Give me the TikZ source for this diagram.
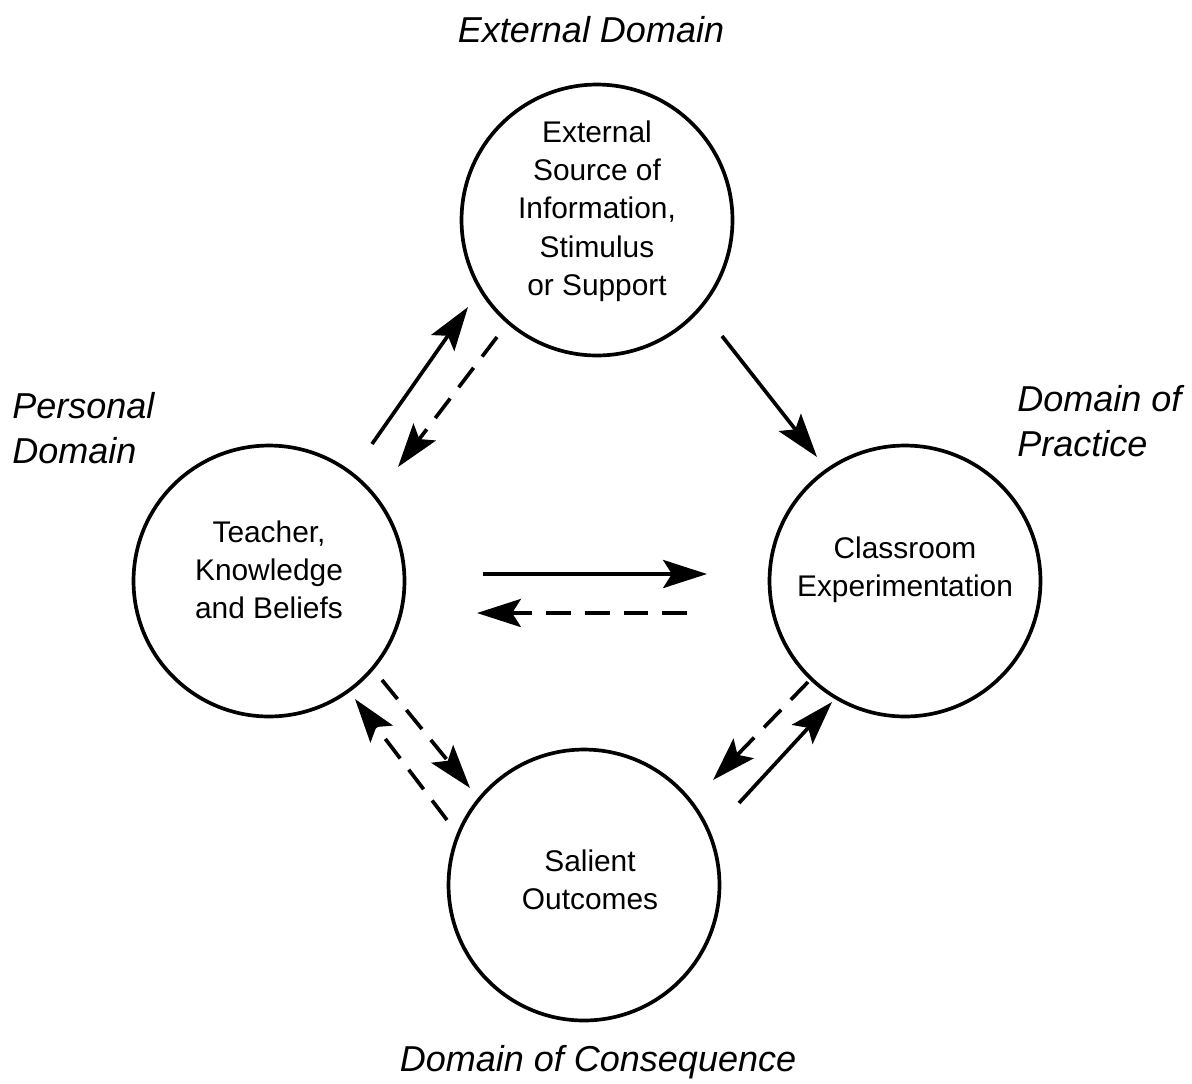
\documentclass[tikz,border=0pt]{standalone}
\usepackage{fontspec}
\setmainfont{Liberation Sans}
\usetikzlibrary{arrows.meta}
\tikzset{
  domcircle/.style={circle, draw, line width=2.1pt, minimum size=5.42cm, inner sep=0pt},
  domtext/.style={align=center, inner sep=0pt, font=\fontsize{17}{21.8}\selectfont},
  domlabel/.style={font=\fontsize{20.5}{25.5}\selectfont\itshape, inner sep=0pt},
  flow/.style={-{Stealth[length=25pt,width=16pt,inset=5pt]}, line width=2.1pt},
  back/.style={flow, dash pattern=on 14pt off 8pt},
}
\begin{document}
\begin{tikzpicture}[x=0.02cm, y=-0.02cm]
  \useasboundingbox (0,0) rectangle (1192,1083);
  % the four circles and their texts
  \node[domcircle] (ext) at (597,220) {};
  \node[domcircle] (per) at (269,581) {};
  \node[domcircle] (pra) at (905,581) {};
  \node[domcircle] (con) at (584,885) {};
  \node[domtext] (ext-t) at (597,211) {External\\Source of\\Information,\\Stimulus\\or Support};
  \node[domtext] (per-t) at (269,570) {Teacher,\\Knowledge\\and Beliefs};
  \node[domtext] (pra-t) at (905,570) {Classroom\\Experimentation};
  \node[domtext] (con-t) at (590,880) {Salient\\Outcomes};
  % domain names
  \node[domlabel] (extlab) at (591,30) {External Domain};
  \node[domlabel, align=left, anchor=west] (perlab) at (12,428) {Personal\\Domain};
  \node[domlabel, align=left, anchor=west] (pralab) at (1017,421) {Domain of\\Practice};
  \node[domlabel] (conlab) at (598,1062) {Domain of Consequence};
  % arrow ends
  \coordinate (pe1) at (372,444); \coordinate (ex1) at (468,307);
  \coordinate (ex2) at (497,337); \coordinate (pe2) at (398,467);
  \coordinate (ex3) at (722,336); \coordinate (pr3) at (817,457);
  \coordinate (pe4) at (483,574); \coordinate (pr4) at (707,574);
  \coordinate (pr5) at (687,613); \coordinate (pe5) at (477,613);
  \coordinate (pr6) at (808,682); \coordinate (co6) at (713,780);
  \coordinate (co7) at (739,803); \coordinate (pr7) at (832,702);
  \coordinate (pe8) at (382,680); \coordinate (co8) at (470,788);
  \coordinate (co9) at (447,820); \coordinate (pe9) at (355,699);
  \draw[flow] (pe1) -- (ex1);
  \draw[back] (ex2) -- (pe2);
  \draw[flow] (ex3) -- (pr3);
  \draw[flow] (pe4) -- (pr4);
  \draw[back] (pr5) -- (pe5);
  \draw[back] (pr6) -- (co6);
  \draw[flow] (co7) -- (pr7);
  \draw[back] (pe8) -- (co8);
  \draw[back] (co9) -- (pe9);
\end{tikzpicture}
\end{document}
